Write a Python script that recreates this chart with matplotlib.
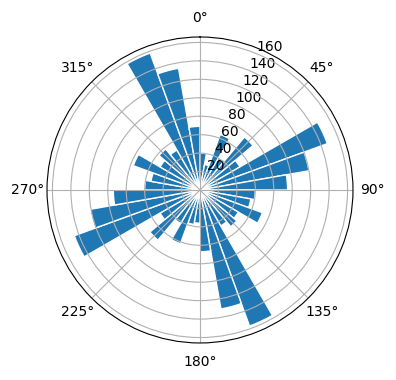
import numpy as np
import matplotlib
matplotlib.use('Agg')
import matplotlib.pyplot as plt

# 36 direction bins of 10 degrees, counts read clockwise from north
bin_edges_deg = np.arange(0, 360, 10)
counts = [40, 28, 64, 40, 75, 50, 147, 120, 95,
          60, 56, 72, 48, 52, 45, 157, 131, 67,
          36, 38, 62, 42, 71, 50, 145, 121, 94,
          60, 54, 77, 50, 58, 50, 158, 134, 69]

theta = np.deg2rad(bin_edges_deg)
width = np.deg2rad(10)

fig = plt.figure(figsize=(3.96, 3.8), dpi=100)
ax = fig.add_axes([0.1187, 0.0974, 0.7727, 0.8053], projection='polar')
ax.set_theta_zero_location('N')
ax.set_theta_direction(-1)
ax.bar(theta, counts, width=width, align='edge', color='#1f77b4',
       edgecolor='white', linewidth=1)
ax.set_rticks([20, 40, 60, 80, 100, 120, 140, 160])

plt.savefig('out.png', dpi=100)
